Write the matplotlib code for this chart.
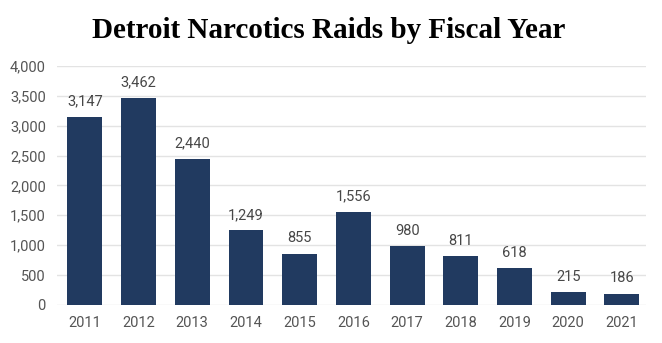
import matplotlib
matplotlib.use('Agg')
import matplotlib.pyplot as plt

years = ['2011', '2012', '2013', '2014', '2015', '2016', '2017', '2018', '2019', '2020', '2021']
raids = [3147, 3462, 2440, 1249, 855, 1556, 980, 811, 618, 215, 186]
yticks = [0, 500, 1000, 1500, 2000, 2500, 3000, 3500, 4000]

fig = plt.figure(figsize=(6.62, 3.43), dpi=100)
ax = fig.add_axes([0.086, 0.111, 0.890, 0.697])

x = range(len(years))
ax.bar(x, raids, width=0.65, color='#213a60', zorder=3)
for i, v in enumerate(raids):
    ax.text(i, v + 140, f'{v:,}', ha='center', va='bottom', fontsize=10.5,
            family='Roboto', color='#474747')

ax.set_xlim(-0.52, 10.45)
ax.set_ylim(0, 4000)
ax.set_yticks(yticks)
ax.set_yticklabels([f'{t:,}' for t in yticks])
ax.set_xticks(list(x))
ax.set_xticklabels(years)
ax.grid(axis='y', color='#e3e3e3', linewidth=1, zorder=0)
ax.tick_params(length=0, labelsize=10.5, labelcolor='#555555', pad=8)
for lab in ax.get_xticklabels() + ax.get_yticklabels():
    lab.set_family('Roboto')
for s in ax.spines.values():
    s.set_visible(False)

fig.text(0.497, 0.91, 'Detroit Narcotics Raids by Fiscal Year', ha='center', va='center',
         fontsize=21, fontweight='heavy', family='Liberation Serif', color='black')

plt.savefig('out.png', dpi=100)
